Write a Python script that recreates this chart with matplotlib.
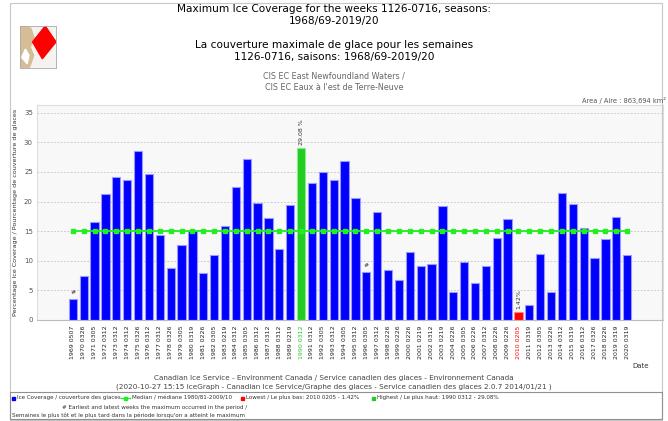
import matplotlib
matplotlib.use("Agg")
import matplotlib.pyplot as plt
from matplotlib.patches import Rectangle, Polygon

seasons = ["1969 0507", "1970 0326", "1971 0305", "1972 0312", "1973 0312", "1974 0312",
           "1975 0326", "1976 0312", "1977 0312", "1978 0326", "1979 0305", "1980 0319",
           "1981 0226", "1982 0305", "1983 0219", "1984 0312", "1985 0305", "1986 0312",
           "1987 0312", "1988 0312", "1989 0219", "1990 0312", "1991 0312", "1992 0305",
           "1993 0312", "1994 0305", "1995 0312", "1996 0305", "1997 0312", "1998 0226",
           "1999 0226", "2000 0226", "2001 0219", "2002 0312", "2003 0219", "2004 0226",
           "2005 0305", "2006 0226", "2007 0312", "2008 0226", "2009 0226", "2010 0205",
           "2011 0319", "2012 0305", "2013 0226", "2014 0312", "2015 0319", "2016 0312",
           "2017 0326", "2018 0226", "2019 0319", "2020 0319"]
coverage = [3.55, 7.5, 16.6, 21.3, 24.2, 23.7, 28.5, 24.7, 14.3, 8.8, 12.7, 15.0,
            7.9, 11.0, 15.9, 22.4, 27.2, 19.8, 17.3, 12.0, 19.4, 29.08, 23.1, 25.0,
            23.7, 26.9, 20.6, 8.1, 18.3, 8.4, 6.8, 11.5, 9.2, 9.4, 19.3, 4.8,
            9.8, 6.2, 9.2, 13.9, 17.0, 1.42, 2.6, 11.1, 4.7, 21.5, 19.6, 15.6,
            10.5, 13.7, 17.4, 10.9]
median = 15.0
highest_idx = 21
lowest_idx = 41
hash_idx = [0, 27]

W, H = 668, 421
fig = plt.figure(figsize=(W / 100, H / 100), dpi=100)
fig.patch.set_facecolor("white")

def fx(px):
    return px / W

def fy(py):
    return 1 - py / H

# outer frame
fig.add_artist(Rectangle((fx(10), fy(420)), fx(652), 417 / H, transform=fig.transFigure,
                         fill=False, ec="#c8c8c8", lw=0.8))
fig.add_artist(Rectangle((fx(10), fy(419)), fx(652), 27 / H, transform=fig.transFigure,
                         fill=False, ec="#909090", lw=0.8))

ax = fig.add_axes([fx(37), fy(320), fx(663 - 37), (320 - 105) / H])
ax.set_facecolor("#f8f8f8")
x = list(range(len(coverage)))
colors = []
edges = []
for i in x:
    if i == highest_idx:
        colors.append("#22cc22"); edges.append("#88ee88")
    elif i == lowest_idx:
        colors.append("#ff0000"); edges.append("#ff8888")
    else:
        colors.append("#0000ff"); edges.append("#9999ff")
ax.bar(x, coverage, width=0.76, color=colors, edgecolor=edges, linewidth=0.8, zorder=2)
ax.plot(x, [median] * len(x), color="#22ee22", lw=1.3, marker="s", ms=3, zorder=3)

for i in hash_idx:
    ax.text(i, coverage[i] + 0.6, "#", ha="center", va="bottom", fontsize=4.5, color="#333333")
ax.text(highest_idx, coverage[highest_idx] + 0.5, f"{coverage[highest_idx]:.2f} %", rotation=90,
        ha="center", va="bottom", fontsize=4.5, color="#333333")
ax.text(lowest_idx, coverage[lowest_idx] + 0.5, f"{coverage[lowest_idx]:.2f}%", rotation=90,
        ha="center", va="bottom", fontsize=4.5, color="#333333")

ax.set_xlim(-3.3, 54.3)
ax.set_ylim(0, 36.3)
ax.set_yticks(range(0, 40, 5))
ax.tick_params(axis="y", labelsize=5, colors="#555555", length=0, pad=3)
ax.set_xticks(x)
ax.set_xticklabels(seasons, rotation=90, fontsize=4.5)
ax.tick_params(axis="x", length=0, pad=4)
for i, lbl in enumerate(ax.get_xticklabels()):
    if i == highest_idx:
        lbl.set_color("#22cc22")
    elif i == lowest_idx:
        lbl.set_color("#ff0000")
    else:
        lbl.set_color("#222222")
ax.grid(axis="y", ls=(0, (2, 2)), color="#c0c0c0", lw=0.6, zorder=0)
for s in ax.spines.values():
    s.set_color("#dddddd")
    s.set_linewidth(0.8)
ax.spines["bottom"].set_color("#bbbbbb")
ax.set_ylabel("Percentage Ice Coverage / Pourcentage de couverture de glaces", fontsize=4.6,
              color="#333333", labelpad=4)

# titles
tfs = 7.6
fig.text(fx(334), fy(9), "Maximum Ice Coverage for the weeks 1126-0716, seasons:", ha="center",
         va="center", fontsize=tfs, color="#000000")
fig.text(fx(334), fy(21), "1968/69-2019/20", ha="center", va="center", fontsize=tfs,
         color="#000000")
fig.text(fx(334), fy(45), "La couverture maximale de glace pour les semaines", ha="center",
         va="center", fontsize=tfs, color="#000000")
fig.text(fx(334), fy(57), "1126-0716, saisons: 1968/69-2019/20", ha="center", va="center",
         fontsize=tfs, color="#000000")
fig.text(fx(334), fy(76), "CIS EC East Newfoundland Waters /", ha="center", va="center",
         fontsize=5.8, color="#666666")
fig.text(fx(334), fy(87), "CIS EC Eaux à l'est de Terre-Neuve", ha="center", va="center",
         fontsize=5.8, color="#666666")
fig.text(fx(666), fy(100), "Area / Aire : 863,694 km²", ha="right", va="center",
         fontsize=4.8, color="#555555")

# logo
lax = fig.add_axes([fx(20), fy(68), fx(36), 42 / H])
lax.set_xlim(0, 1); lax.set_ylim(0, 1)
lax.set_facecolor("#f6f2f0")
lax.add_patch(Polygon([(0, 0), (0, 1), (0.3, 0.95), (0.4, 0.7), (0.28, 0.5), (0.38, 0.3),
                       (0.3, 0.1), (0.25, 0)], color="#d6bd95"))
lax.add_patch(Polygon([(0.05, 0.25), (0.15, 0.45), (0.25, 0.3), (0.2, 0.1)], color="#ffffff"))
lax.add_patch(Polygon([(0.35, 0.62), (0.7, 1.0), (1.0, 0.62), (0.62, 0.22)], color="#ff0000"))
lax.set_xticks([]); lax.set_yticks([])
for s in lax.spines.values():
    s.set_color("#aaaaaa"); s.set_linewidth(0.6)

# bottom texts
fig.text(fx(641), fy(366), "Date", ha="center", va="center", fontsize=5, color="#333333")
fig.text(fx(334), fy(378),
         "Canadian Ice Service - Environment Canada / Service canadien des glaces - Environnement Canada",
         ha="center", va="center", fontsize=5.2, color="#444444")
fig.text(fx(334), fy(387),
         "(2020-10-27 15:15 IceGraph - Canadian Ice Service/Graphe des glaces - Service canadien des glaces 2.0.7 2014/01/21 )",
         ha="center", va="center", fontsize=5.2, color="#444444")

# legend line
ly = fy(398)
fs = 4.1
fig.add_artist(Rectangle((fx(12), ly - 1.5 / H), fx(3), 3 / H, transform=fig.transFigure,
                         color="#0000ff"))
fig.text(fx(17), ly, "Ice Coverage / couverture des glaces", va="center", fontsize=fs, color="#333333")
fig.add_artist(plt.Line2D([fx(121), fx(130)], [ly, ly], transform=fig.transFigure,
                          color="#22ee22", lw=1))
fig.add_artist(Rectangle((fx(124), ly - 1.5 / H), fx(3), 3 / H, transform=fig.transFigure,
                         color="#22ee22"))
fig.text(fx(132), ly, "Median / médiane 1980/81-2009/10", va="center", fontsize=fs, color="#333333")
fig.add_artist(Rectangle((fx(241), ly - 1.5 / H), fx(3), 3 / H, transform=fig.transFigure,
                         color="#ff0000"))
fig.text(fx(246), ly, "Lowest / Le plus bas: 2010 0205 - 1.42%", va="center", fontsize=fs,
         color="#333333")
fig.add_artist(Rectangle((fx(372), ly - 1.5 / H), fx(3), 3 / H, transform=fig.transFigure,
                         color="#22cc22"))
fig.text(fx(377), ly, "Highest / Le plus haut: 1990 0312 - 29.08%", va="center", fontsize=fs,
         color="#333333")
fig.text(fx(155), fy(407), "# Earliest and latest weeks the maximum occurred in the period /",
         ha="center", va="center", fontsize=fs, color="#333333")
fig.text(fx(12), fy(415),
         "Semaines le plus tôt et le plus tard dans la période lorsqu'on a atteint le maximum",
         ha="left", va="center", fontsize=fs, color="#333333")

fig.savefig("out.png", dpi=100)
